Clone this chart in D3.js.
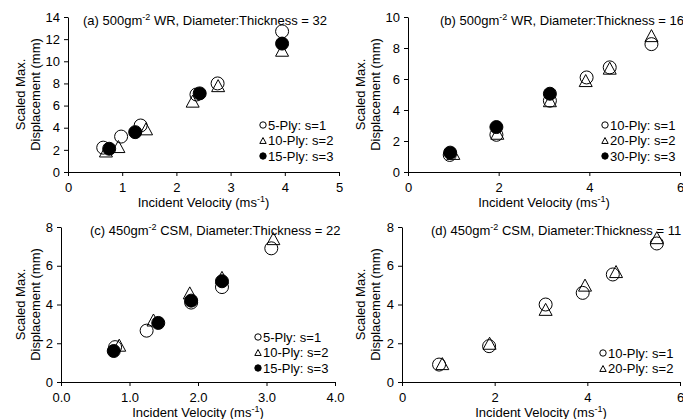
<!DOCTYPE html>
<html>
<head>
<meta charset="utf-8">
<script src="https://cdn.jsdelivr.net/npm/d3@7"></script>
<style>
  body { margin: 0; background: #fff; }
  svg { display: block; font-family: "Liberation Sans", Arial, sans-serif; }
</style>
</head>
<body>
<script>
// Values: [incident velocity (m/s), scaled max. displacement (mm)]

// (a) 500gm-2 WR, D:T = 32
const aPly5  = [[0.65, 2.2], [0.98, 3.2], [1.34, 4.2], [2.37, 7.0], [2.76, 8.0], [3.95, 12.7]];
const aPly10 = [[0.70, 1.9], [0.93, 2.3], [1.44, 3.9], [2.30, 6.4], [2.77, 7.8], [3.95, 11.0]];
const aPly15 = [[0.76, 2.1], [1.24, 3.6], [2.43, 7.1], [3.95, 11.6]];

// (b) 500gm-2 WR, D:T = 16
const bPly10 = [[0.92, 1.1], [1.95, 2.4], [3.13, 4.6], [3.94, 6.1], [4.45, 6.75], [5.37, 8.25]];
const bPly20 = [[1.00, 1.2], [1.97, 2.5], [3.13, 4.6], [3.92, 5.9], [4.45, 6.7], [5.37, 8.8]];
const bPly30 = [[0.93, 1.25], [1.95, 2.9], [3.13, 5.05]];

// (c) 450gm-2 CSM, D:T = 22
const cPly5  = [[0.79, 1.8], [1.25, 2.65], [1.90, 4.1], [2.35, 4.9], [3.07, 6.9]];
const cPly10 = [[0.85, 1.9], [1.35, 3.2], [1.88, 4.6], [2.35, 5.4], [3.10, 7.4]];
const cPly15 = [[0.77, 1.6], [1.42, 3.05], [1.90, 4.2], [2.35, 5.2]];

// (d) 450gm-2 CSM, D:T = 11
const dPly10 = [[0.80, 0.9], [1.88, 1.85], [3.10, 4.0], [3.90, 4.6], [4.55, 5.55], [5.50, 7.15]];
const dPly20 = [[0.87, 0.95], [1.89, 2.0], [3.10, 3.75], [3.95, 5.0], [4.62, 5.7], [5.50, 7.45]];

// Titles, legend labels and axis ticks
const titlePre  = ['(a) 500gm', '(b) 500gm', '(c) 450gm', '(d) 450gm'];
const titlePost = [' WR, Diameter:Thickness = 32', ' WR, Diameter:Thickness = 16',
                   ' CSM, Diameter:Thickness = 22', ' CSM, Diameter:Thickness = 11'];
const legendA = ['5-Ply: s=1', '10-Ply: s=2', '15-Ply: s=3'];
const legendB = ['10-Ply: s=1', '20-Ply: s=2', '30-Ply: s=3'];
const legendC = ['5-Ply: s=1', '10-Ply: s=2', '15-Ply: s=3'];
const legendD = ['10-Ply: s=1', '20-Ply: s=2'];
const xTicksA = [0, 1, 2, 3, 4, 5];
const xTicksB = [0, 2, 4, 6];
const xTicksC = [0, 1, 2, 3, 4];
const xTicksD = [0, 2, 4, 6];
const yTicksA = [0, 2, 4, 6, 8, 10, 12, 14];
const yTicksB = [0, 2, 4, 6, 8, 10];
const yTicksC = [0, 2, 4, 6, 8];
const yTicksD = [0, 2, 4, 6, 8];

const W = 683, H = 419;
const svg = d3.select('body').append('svg')
    .attr('width', W)
    .attr('height', H);

// Marker styles: open circle, open triangle, filled circle
const styles = ['circle', 'triangle', 'filled'];

function marker(sel, kind, r) {
    if (kind === 'triangle') {
        const w = r * 2, h = r * 1.85;
        sel.append('path')
            .attr('d', `M0,${-h / 2}L${w / 2},${h / 2}L${-w / 2},${h / 2}Z`)
            .attr('fill', 'none')
            .attr('stroke', '#000')
            .attr('stroke-width', 1);
    } else {
        sel.append('circle')
            .attr('r', r)
            .attr('fill', kind === 'filled' ? '#000' : 'none')
            .attr('stroke', '#000')
            .attr('stroke-width', 1);
    }
}

// Panel layouts (pixel boxes of the plot areas)
const panels = [
    { left: 0,   xr: [68, 339],  yr: [172, 17],  xd: [0, 5],  yd: [0, 14], xt: xTicksA, yt: yTicksA, fmt: d3.format('d'),
      series: [aPly5, aPly10, aPly15], legend: legendA, lx: 263, ly: 125, tx: 83, ty: 25 },
    { left: 340, xr: [408, 680], yr: [172, 17],  xd: [0, 6],  yd: [0, 10], xt: xTicksB, yt: yTicksB, fmt: d3.format('d'),
      series: [bPly10, bPly20, bPly30], legend: legendB, lx: 605, ly: 125, tx: 440, ty: 25 },
    { left: 0,   xr: [61, 335],  yr: [382, 227], xd: [0, 4],  yd: [0, 8],  xt: xTicksC, yt: yTicksC, fmt: d3.format('.1f'),
      series: [cPly5, cPly10, cPly15], legend: legendC, lx: 258, ly: 337, tx: 90, ty: 235 },
    { left: 340, xr: [402, 680], yr: [382, 227], xd: [0, 6],  yd: [0, 8],  xt: xTicksD, yt: yTicksD, fmt: d3.format('d'),
      series: [dPly10, dPly20], legend: legendD, lx: 603, ly: 353, tx: 431, ty: 235 }
];

panels.forEach((p, i) => {
    const x = d3.scaleLinear().domain(p.xd).range(p.xr);
    const y = d3.scaleLinear().domain(p.yd).range(p.yr);
    const g = svg.append('g');

    // X axis
    g.append('g')
        .attr('transform', `translate(0,${p.yr[0]})`)
        .call(d3.axisBottom(x).tickValues(p.xt).tickFormat(p.fmt)
            .tickSize(4).tickSizeOuter(0).tickPadding(7))
        .call(a => a.selectAll('text').attr('font-size', 13).attr('font-family', null).attr('fill', '#000'))
        .call(a => a.selectAll('line,path').attr('stroke', '#000'));

    // Y axis
    g.append('g')
        .attr('transform', `translate(${p.xr[0]},0)`)
        .call(d3.axisLeft(y).tickValues(p.yt).tickFormat(d3.format('d'))
            .tickSize(4).tickSizeOuter(0).tickPadding(4))
        .call(a => a.selectAll('text').attr('font-size', 13).attr('font-family', null).attr('fill', '#000'))
        .call(a => a.selectAll('line,path').attr('stroke', '#000'));

    // Axis titles
    const xl = g.append('text')
        .attr('x', (p.xr[0] + p.xr[1]) / 2)
        .attr('y', p.yr[0] + 35)
        .attr('text-anchor', 'middle')
        .attr('font-size', 13);
    xl.append('tspan').text('Incident Velocity (ms');
    xl.append('tspan').attr('font-size', 9).attr('dy', -5).text('-1');
    xl.append('tspan').attr('dy', 5).text(')');

    const ymid = (p.yr[0] + p.yr[1]) / 2;
    ['Scaled Max.', 'Displacement (mm)'].forEach((t, k) => {
        g.append('text')
            .attr('transform', `translate(${p.left + 25 + k * 15},${ymid}) rotate(-90)`)
            .attr('text-anchor', 'middle')
            .attr('font-size', 13)
            .text(t);
    });

    // Panel title
    const tt = g.append('text')
        .attr('x', p.tx)
        .attr('y', p.ty)
        .attr('font-size', 13);
    tt.append('tspan').text(titlePre[i]);
    tt.append('tspan').attr('font-size', 9).attr('dy', -5).text('-2');
    tt.append('tspan').attr('dy', 5).text(titlePost[i]);

    // Data points, drawn series by series
    p.series.forEach((s, k) => {
        g.append('g').selectAll('g')
            .data(s)
            .join('g')
            .attr('transform', d => `translate(${x(d[0])},${y(d[1])})`)
            .each(function() { marker(d3.select(this), styles[k], 6.5); });
    });

    // Legend
    p.legend.forEach((t, k) => {
        const row = g.append('g')
            .attr('transform', `translate(${p.lx},${p.ly + k * 15.5})`);
        marker(row, styles[k], 3.2);
        row.append('text')
            .attr('x', 5)
            .attr('dy', '0.35em')
            .attr('font-size', 13)
            .text(t);
    });
});
</script>
</body>
</html>
